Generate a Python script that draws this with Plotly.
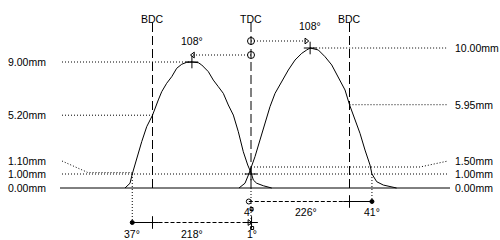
import plotly.graph_objects as go

# ---------------- data ----------------
# crank angle in degrees (overlap TDC = 360, BDC = 180 / 540), valve lift in mm
exh_deg = [129.7, 138.9, 143.0, 151.1, 160.3, 169.4, 180.0, 190.6, 196.8, 205.9, 215.1,
           224.2, 233.4, 242.5, 252.0, 263.7, 269.9, 282.0, 291.1, 300.2, 309.4, 318.5,
           327.7, 336.8, 345.9, 354.0, 361.0, 364.2, 370.4, 382.5, 397.8]
exh_lift = [0.00, 0.34, 1.00, 2.12, 3.31, 4.38, 5.20, 6.29, 6.88, 7.48, 7.95,
            8.55, 8.84, 8.98, 9.00, 8.95, 8.79, 8.31, 7.71, 7.24, 6.76, 5.93,
            5.21, 4.02, 2.59, 1.64, 1.00, 0.57, 0.34, 0.16, 0.00]

int_deg = [338.0, 349.0, 356.0, 367.3, 376.4, 385.6, 394.7, 403.9, 416.1, 428.2, 440.4,
           452.7, 461.8, 468.0, 483.0, 495.2, 507.5, 519.5, 531.8, 540.0, 550.1, 559.2,
           568.3, 577.5, 581.0, 589.7, 601.8, 620.1, 626.0]
int_lift = [0.00, 0.34, 1.00, 2.24, 3.43, 4.62, 5.81, 6.76, 7.59, 8.43, 9.14,
            9.62, 9.86, 10.00, 9.86, 9.38, 8.79, 7.95, 7.00, 5.95, 4.86, 3.90,
            2.71, 1.64, 1.00, 0.45, 0.21, 0.09, 0.00]

dead_centre_deg = [180, 360, 540]
dead_centre_labels = ["BDC", "TDC", "BDC"]
tdc_deg = 360
bdc_left, bdc_right = 180, 540

exh_peak_deg, exh_peak_lift = 252, 9.00
int_peak_deg, int_peak_lift = 468, 10.00
peak_angle_labels = ["108°", "108°"]

check_lift = 1.00
exh_open_deg, exh_close_deg = 143, 361
int_open_deg, int_close_deg = 356, 581
exh_lift_at_bdc = 5.20
int_lift_at_bdc = 5.95
exh_ramp_lift = 1.10
int_ramp_lift = 1.50

exh_timing_labels = ["37°", "218°", "1°"]
int_timing_labels = ["4°", "226°", "41°"]

# ---------------- layout helpers ----------------
W, H = 500, 240
X_RANGE = [-98.7, 815.0]
Y_RANGE = [-3.714, 13.429]


def X(px):
    return X_RANGE[0] + px / W * (X_RANGE[1] - X_RANGE[0])


def Y(py):
    return Y_RANGE[1] - py / H * (Y_RANGE[1] - Y_RANGE[0])


FONT = dict(family="Liberation Sans, Arial, sans-serif", size=10.5, color="black")
DOT = "1px,2px"
fig = go.Figure()


def line(xs, ys, dash="solid", width=1):
    fig.add_trace(go.Scatter(x=xs, y=ys, mode="lines", hoverinfo="skip", showlegend=False,
                             line=dict(color="black", width=width, dash=dash)))


def marks(xs, ys, symbol, size=8):
    fig.add_trace(go.Scatter(x=xs, y=ys, mode="markers", hoverinfo="skip", showlegend=False,
                             marker=dict(symbol=symbol, size=size, color="black",
                                         line=dict(color="black", width=1))))


def text(x, y, s, anchor="center"):
    fig.add_annotation(x=x, y=y, text=s, showarrow=False, xanchor=anchor, yanchor="middle",
                       font=FONT)


# baseline
line([X(60), X(450)], [0, 0])

# dead-centre dashed verticals + labels
for d, lab in zip(dead_centre_deg, dead_centre_labels):
    line([d, d], [0, Y(22)], dash="9px,4px")
    text(d, Y(19), lab)

# lift curves
line(exh_deg, exh_lift)
line(int_deg, int_lift)

# left level lines
line([X(62), exh_peak_deg], [exh_peak_lift] * 2, DOT)
line([X(62), bdc_left], [exh_lift_at_bdc] * 2, DOT)
line([X(62), tdc_deg], [check_lift] * 2, DOT)
line([X(62), X(88), exh_open_deg], [Y(161), exh_ramp_lift, exh_ramp_lift], DOT)

# right level lines
line([int_peak_deg, X(448)], [int_peak_lift] * 2, DOT)
line([bdc_right, X(448)], [int_lift_at_bdc] * 2, DOT)
line([tdc_deg, X(448)], [check_lift] * 2, DOT)
line([tdc_deg, X(420), X(448)], [int_ramp_lift, int_ramp_lift, Y(161)], DOT)

# level labels
left_levels = [(exh_peak_lift, exh_peak_lift), (exh_lift_at_bdc, exh_lift_at_bdc),
               (exh_ramp_lift, Y(161)), (check_lift, check_lift), (0.0, 0.0)]
right_levels = [(int_peak_lift, int_peak_lift), (int_lift_at_bdc, int_lift_at_bdc),
                (int_ramp_lift, Y(161)), (check_lift, check_lift), (0.0, 0.0)]
for v, yy in left_levels:
    text(X(48), yy, f"{v:.2f}mm", "right")
for v, yy in right_levels:
    text(X(453), yy, f"{v:.2f}mm", "left")

# peak markers and peak-angle arrows
marks([exh_peak_deg, int_peak_deg, tdc_deg], [exh_peak_lift, int_peak_lift, check_lift],
      "cross-thin", 9)
ya = exh_peak_lift + 0.5
yb = int_peak_lift + 0.5
line([tdc_deg, exh_peak_deg + 1], [ya, ya], DOT)
line([tdc_deg, int_peak_deg - 6], [yb, yb], DOT)
marks([exh_peak_deg + 2], [ya], "triangle-left-open", 5)
marks([int_peak_deg - 7], [yb], "triangle-right-open", 5)
marks([tdc_deg, tdc_deg], [ya, yb], "circle-open", 7)
text(exh_peak_deg, exh_peak_lift + 1.5, peak_angle_labels[0])
text(int_peak_deg, int_peak_lift + 1.6, peak_angle_labels[1])

# timing arrows (below the baseline)
y_int = Y(201.5)
y_exh = Y(222.5)
# intake
line([int_open_deg, bdc_right], [y_int, y_int], "4px,2px")
line([bdc_right, int_close_deg], [y_int, y_int])
marks([int_open_deg], [y_int], "circle-open", 5)
marks([bdc_right], [y_int], "cross-thin", 9)
marks([int_close_deg], [y_int], "circle", 4)
line([int_close_deg, int_close_deg], [check_lift, y_int], DOT)
text(int_open_deg, Y(212), int_timing_labels[0])
text((int_open_deg + int_close_deg) / 2 - 8, Y(212), int_timing_labels[1])
text(int_close_deg, Y(212), int_timing_labels[2])
# exhaust
line([exh_open_deg, bdc_left], [y_exh, y_exh])
line([bdc_left, exh_close_deg - 3], [y_exh, y_exh], "4px,2px")
marks([exh_open_deg], [y_exh], "circle", 4)
marks([bdc_left, exh_close_deg], [y_exh, y_exh], "cross-thin", 9)
marks([exh_close_deg - 4], [y_exh], "triangle-right-open", 5)
line([exh_open_deg, exh_open_deg], [check_lift, y_exh], DOT)
line([tdc_deg, tdc_deg], [0, Y(230)], DOT)
marks([exh_close_deg, exh_close_deg + 1], [Y(209), Y(228)], "square-open", 3)
text(exh_open_deg, Y(233.5), exh_timing_labels[0])
text((exh_open_deg + exh_close_deg) / 2, Y(233.5), exh_timing_labels[1])
text(exh_close_deg + 1, Y(233.5), exh_timing_labels[2])

fig.update_layout(
    width=W, height=H, autosize=False,
    margin=dict(l=0, r=0, t=0, b=0),
    paper_bgcolor="white", plot_bgcolor="white",
    xaxis=dict(range=X_RANGE, visible=False, fixedrange=True),
    yaxis=dict(range=Y_RANGE, visible=False, fixedrange=True),
    showlegend=False,
)
fig.write_html("out.html")
